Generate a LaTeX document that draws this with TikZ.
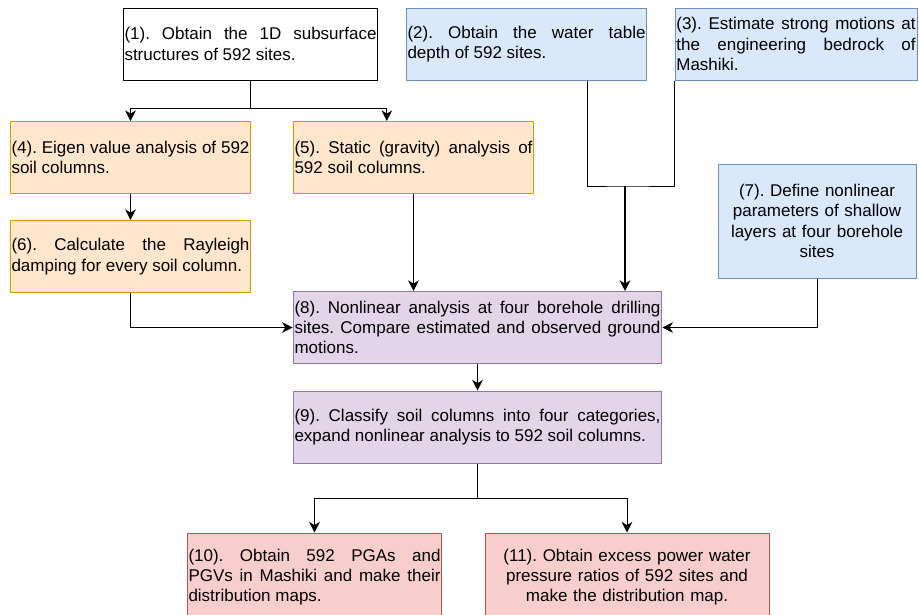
\documentclass[tikz,border=0pt]{standalone}
\usepackage{fontspec}
\setmainfont{Liberation Sans}
\usetikzlibrary{arrows.meta}

\definecolor{orfill}{HTML}{FFE6CC}
\definecolor{ordraw}{HTML}{D79B00}
\definecolor{blfill}{HTML}{DAE8FC}
\definecolor{bldraw}{HTML}{6C8EBF}
\definecolor{pufill}{HTML}{E1D5E7}
\definecolor{pudraw}{HTML}{9673A6}
\definecolor{rdfill}{HTML}{F8CECC}
\definecolor{rddraw}{HTML}{B85450}

\hyphenpenalty=10000
\exhyphenpenalty=10000

\begin{document}
\begin{tikzpicture}[x=0.75pt, y=-0.75pt, line width=0.75pt, >={Stealth[length=8pt,width=8pt,inset=2.5pt]},
  font=\fontsize{12.75}{15.3}\selectfont\frenchspacing,
  box/.style={rectangle, draw, align=justify, inner xsep=1pt, inner ysep=0pt, minimum height=54pt},
  plainbox/.style={box, fill=white, draw=black},
  orbox/.style={box, fill=orfill, draw=ordraw},
  blbox/.style={box, fill=blfill, draw=bldraw},
  pubox/.style={box, fill=pufill, draw=pudraw},
  rdbox/.style={box, fill=rdfill, draw=rddraw}]

\useasboundingbox (0,0) rectangle (919,614);

% top row
\node[plainbox, text width=189pt] (b1) at (250.5,44) {(1). Obtain the 1D subsurface structures of 592 sites.};
\node[blbox, text width=178.5pt] (b2) at (526.5,44) {(2). Obtain the water table\linebreak depth of 592 sites.};
\node[blbox, text width=179.5pt] (b3) at (796,44) {(3). Estimate strong motions at\linebreak the engineering bedrock of\linebreak Mashiki.};

% left column
\node[orbox, text width=178.5pt] (b4) at (130.5,157.5) {(4). Eigen value analysis of 592 soil columns.};
\node[orbox, text width=178.5pt] (b5) at (413.5,157.5) {(5). Static (gravity) analysis of 592 soil columns.};
\node[orbox, text width=178.5pt] (b6) at (130.5,256.5) {(6). Calculate the Rayleigh damping for every soil column.};
\node[blbox, text width=146.5pt, align=center, minimum height=85.5pt] (b7) at (817,221) {(7). Define nonlinear\\ parameters of shallow\\ layers at four borehole\\ sites};

% analysis
\node[pubox, text width=274.5pt] (b8) at (477.5,327.5) {(8). Nonlinear analysis at four borehole drilling sites. Compare estimated and observed ground motions.};
\node[pubox, text width=274.5pt] (b9) at (477.5,427) {(9). Classify soil columns into four categories, expand nonlinear analysis to 592 soil columns.};

% results
\node[rdbox, text width=189pt, minimum height=66pt] (b10) at (314.5,577) {(10). Obtain 592 PGAs and PGVs in Mashiki and make their distribution maps.};
\node[rdbox, text width=211pt, align=center, minimum height=66pt] (b11) at (627,577) {(11). Obtain excess power water\\ pressure ratios of 592 sites and\\ make the distribution map.};

\coordinate (j1) at (250.5,108);
\coordinate (j2) at (625,186);
\coordinate (j3) at (477.5,498);

\draw (b1.south) -- (j1);
\draw[->] (j1) -| (b4.north);
\draw[->] (j1) -| ([xshift=-20pt]b5.north);
\draw[->] (b4.south) -- (b6.north);
\draw[->] (b5.south) -- (b5.south |- b8.north);

\draw ([xshift=45.4pt]b2.south) |- (j2) -| (b3.south west);
\draw[->, line width=1.5pt] (j2) -- (j2 |- b8.north);

\draw[->] (b6.south) |- (b8.west);
\draw[->] (b7.south) |- (b8.east);
\draw[->] (b8.south) -- (b9.north);

\draw (b9.south) -- (j3);
\draw[->] (j3) -| (b10.north);
\draw[->] (j3) -| (b11.north);

\end{tikzpicture}
\end{document}
